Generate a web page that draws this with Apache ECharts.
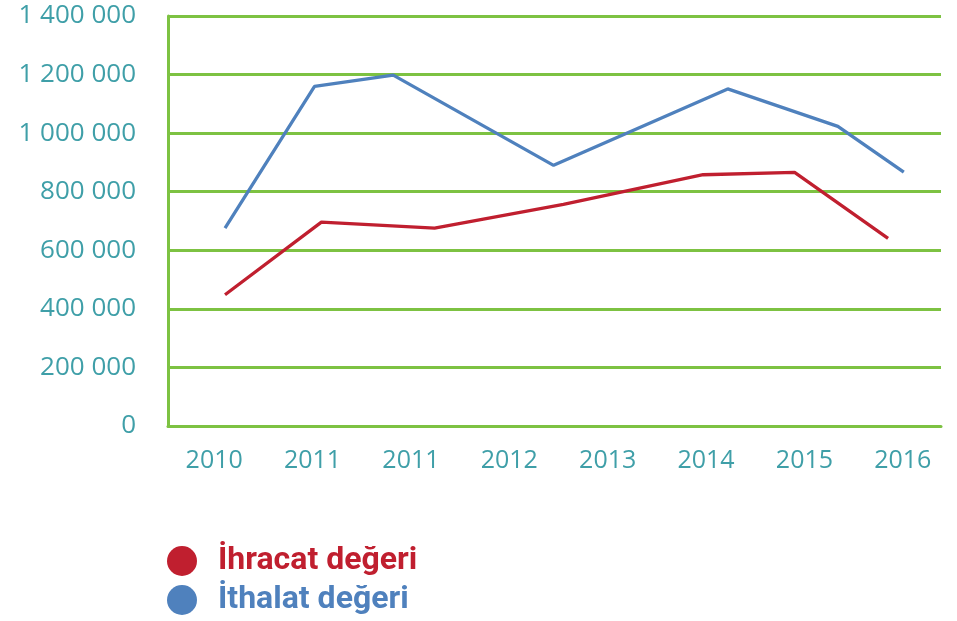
<!DOCTYPE html>
<html>
<head>
<meta charset="utf-8">
<script src="https://cdn.jsdelivr.net/npm/echarts@6/dist/echarts.min.js"></script>
<style>
html,body{margin:0;padding:0;background:#fff;}
#chart{width:957px;height:621px;}
</style>
</head>
<body>
<div id="chart"></div>
<script>
// Category labels (as printed in the source)
var years = ['2010', '2011', '2011', '2012', '2013', '2014', '2015', '2016'];
// Y axis
var yMin = 0, yMax = 1400000, yStep = 200000;
// Series: position along the year axis (in category units) and value
var exportName = 'İhracat değeri';
var exportPos = [0.11, 1.09, 2.24, 3.55, 4.97, 5.90, 6.85];
var exportVal = [448000, 696000, 676000, 757000, 858000, 866000, 641000];
var importName = 'İthalat değeri';
var importPos = [0.11, 1.02, 1.82, 3.45, 5.22, 6.34, 7.01];
var importVal = [676000, 1160000, 1198000, 890000, 1151000, 1023000, 867000];

var green = '#7dc242';
var teal = '#3f9fa8';
var red = '#c01f2f';
var blue = '#4f81bd';

function fmt(v) {
  return String(v).replace(/\B(?=(\d{3})+(?!\d))/g, ' ');
}
function pairs(xs, ys) {
  return xs.map(function (x, i) { return [x, ys[i]]; });
}
function legendFor(name, color, top) {
  return {
    left: 167, top: top, orient: 'vertical', padding: 0,
    itemWidth: 30, itemHeight: 30, icon: 'circle',
    textStyle: { fontFamily: 'Roboto', fontWeight: 'bold', fontSize: 32, color: color, padding: [0, 0, 0, 16] },
    data: [{ name: name }]
  };
}

var chart = echarts.init(document.getElementById('chart'));
chart.setOption({
  animation: false,
  backgroundColor: '#fff',
  grid: [
    { left: 168, right: 16, top: 16, bottom: 195 },
    { left: 165, right: 5, top: 16, bottom: 195 }
  ],
  xAxis: [
    {
      gridIndex: 0, type: 'value', min: 0, max: 1,
      axisLine: { show: true, lineStyle: { color: green, width: 3 } },
      axisTick: { show: false }, axisLabel: { show: false }, splitLine: { show: false }
    },
    {
      gridIndex: 1, type: 'category', data: years, boundaryGap: true,
      axisLine: { show: false }, axisTick: { show: false }, splitLine: { show: false },
      axisLabel: { color: teal, fontSize: 25, fontFamily: 'Open Sans', margin: 22, lineHeight: 26 }
    },
    {
      gridIndex: 1, type: 'value', min: -0.5, max: 7.5, show: false
    }
  ],
  yAxis: [
    {
      gridIndex: 0, type: 'value', min: yMin, max: yMax, interval: yStep,
      axisLine: { show: true, lineStyle: { color: green, width: 3 } },
      axisTick: { show: false },
      splitLine: { show: true, lineStyle: { color: green, width: 3 } },
      axisLabel: { color: teal, fontSize: 26, fontFamily: 'Open Sans', margin: 32, formatter: fmt }
    },
    {
      gridIndex: 1, type: 'value', min: yMin, max: yMax, show: false
    }
  ],
  legend: [
    legendFor(exportName, red, 545),
    legendFor(importName, blue, 584)
  ],
  series: [
    {
      name: exportName, type: 'line', xAxisIndex: 2, yAxisIndex: 1,
      data: pairs(exportPos, exportVal), symbol: 'none',
      itemStyle: { color: red }, lineStyle: { color: red, width: 3.3 }
    },
    {
      name: importName, type: 'line', xAxisIndex: 2, yAxisIndex: 1,
      data: pairs(importPos, importVal), symbol: 'none',
      itemStyle: { color: blue }, lineStyle: { color: blue, width: 3.3 }
    }
  ]
});
</script>
</body>
</html>
